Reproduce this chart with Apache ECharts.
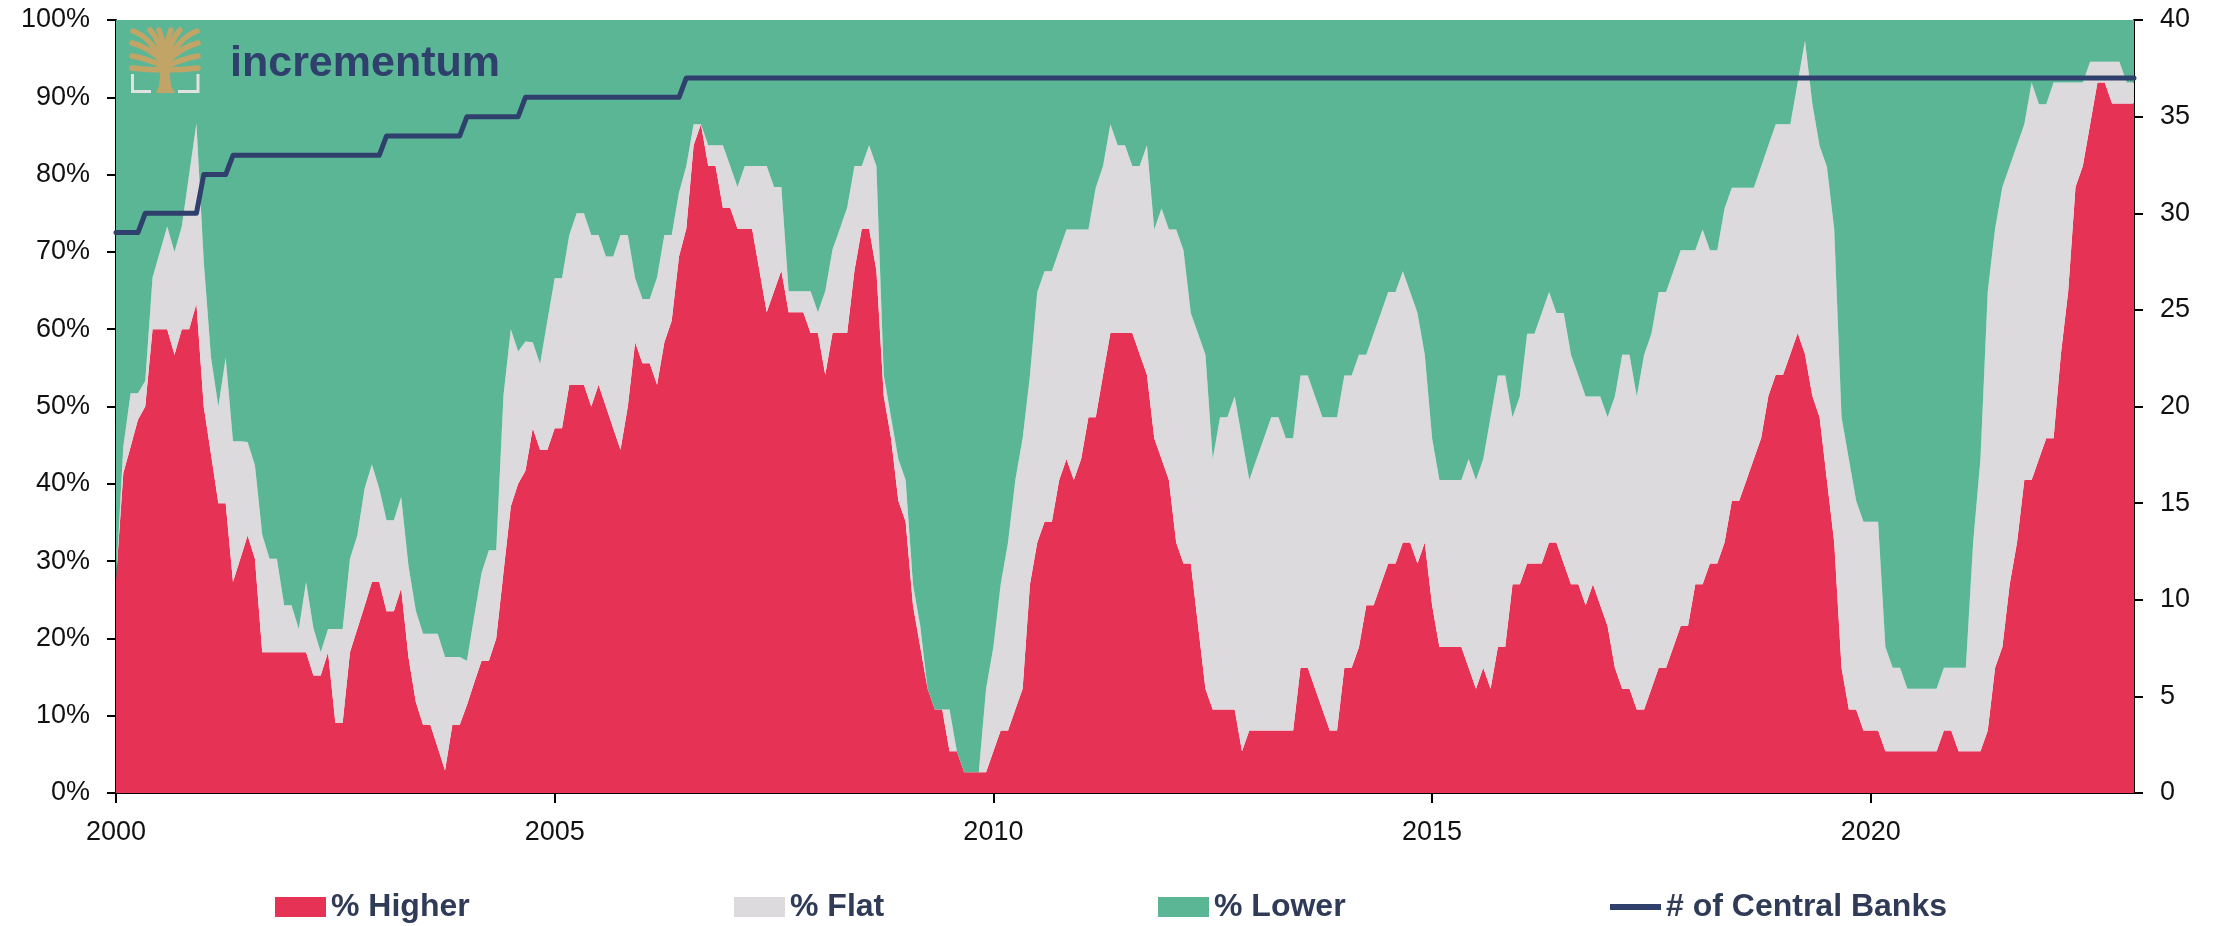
<!DOCTYPE html>
<html><head><meta charset="utf-8">
<script src="https://cdn.jsdelivr.net/npm/echarts@6/dist/echarts.min.js"></script>
<style>html,body{margin:0;padding:0;background:#fff}#c{width:2214px;height:926px}</style>
</head><body><div id="c"></div>
<script>
// Monthly observations, Jan 2000 .. Jan 2023
const pctHigher = [
27.6,41.4,44.8,48.3,50.0,60.0,60.0,60.0,56.7,60.0,60.0,63.3,
50.0,43.8,37.5,37.5,27.3,30.3,33.3,30.3,18.2,18.2,18.2,18.2,
18.2,18.2,18.2,15.2,15.2,18.2,9.1,9.1,18.2,21.2,24.2,27.3,
27.3,23.5,23.5,26.5,17.6,11.8,8.8,8.8,5.9,2.9,8.8,8.8,
11.4,14.3,17.1,17.1,20.0,28.6,37.1,40.0,41.7,47.2,44.4,44.4,
47.2,47.2,52.8,52.8,52.8,50.0,52.8,50.0,47.2,44.4,50.0,58.3,
55.6,55.6,52.8,58.3,61.1,69.4,73.0,83.8,86.5,81.1,81.1,75.7,
75.7,73.0,73.0,73.0,67.6,62.2,64.9,67.6,62.2,62.2,62.2,59.5,
59.5,54.1,59.5,59.5,59.5,67.6,73.0,73.0,67.6,51.4,45.9,37.8,
35.1,24.3,18.9,13.5,10.8,10.8,5.4,5.4,2.7,2.7,2.7,2.7,
5.4,8.1,8.1,10.8,13.5,27.0,32.4,35.1,35.1,40.5,43.2,40.5,
43.2,48.6,48.6,54.1,59.5,59.5,59.5,59.5,56.8,54.1,45.9,43.2,
40.5,32.4,29.7,29.7,21.6,13.5,10.8,10.8,10.8,10.8,5.4,8.1,
8.1,8.1,8.1,8.1,8.1,8.1,16.2,16.2,13.5,10.8,8.1,8.1,
16.2,16.2,18.9,24.3,24.3,27.0,29.7,29.7,32.4,32.4,29.7,32.4,
24.3,18.9,18.9,18.9,18.9,16.2,13.5,16.2,13.5,18.9,18.9,27.0,
27.0,29.7,29.7,29.7,32.4,32.4,29.7,27.0,27.0,24.3,27.0,24.3,
21.6,16.2,13.5,13.5,10.8,10.8,13.5,16.2,16.2,18.9,21.6,21.6,
27.0,27.0,29.7,29.7,32.4,37.8,37.8,40.5,43.2,45.9,51.4,54.1,
54.1,56.8,59.5,56.8,51.4,48.6,40.5,32.4,16.2,10.8,10.8,8.1,
8.1,8.1,5.4,5.4,5.4,5.4,5.4,5.4,5.4,5.4,8.1,8.1,
5.4,5.4,5.4,5.4,8.1,16.2,18.9,27.0,32.4,40.5,40.5,43.2,
45.9,45.9,56.8,64.9,78.4,81.1,86.5,91.9,91.9,89.2,89.2,89.2,
89.2];
const pctFlat = [
0,3.4,6.9,3.4,3.3,6.7,10.0,13.3,13.3,13.3,20.0,23.3,
18.8,12.5,12.5,18.8,18.2,15.2,12.1,12.1,15.2,12.1,12.1,6.1,
6.1,3.0,9.1,6.1,3.0,3.0,12.1,12.1,12.1,12.1,15.2,15.2,
12.1,11.8,11.8,11.8,11.8,11.8,11.8,11.8,14.7,14.7,8.8,8.8,
5.7,8.6,11.4,14.3,11.4,22.9,22.9,17.1,16.7,11.1,11.1,16.7,
19.4,19.4,19.4,22.2,22.2,22.2,19.4,19.4,22.2,27.8,22.2,8.3,
8.3,8.3,13.9,13.9,11.1,8.3,8.1,2.7,0,2.7,2.7,8.1,
5.4,5.4,8.1,8.1,13.5,18.9,13.5,10.8,2.7,2.7,2.7,5.4,
2.7,10.8,10.8,13.5,16.2,13.5,8.1,10.8,13.5,2.7,2.7,5.4,
5.4,2.7,2.7,0,0,0,5.4,0,0,0,0,10.8,
13.5,18.9,24.3,29.7,32.4,27.0,32.4,32.4,32.4,29.7,29.7,32.4,
29.7,24.3,29.7,27.0,27.0,24.3,24.3,21.6,24.3,29.7,27.0,32.4,
32.4,40.5,40.5,32.4,37.8,43.2,32.4,37.8,37.8,40.5,40.5,32.4,
35.1,37.8,40.5,40.5,37.8,37.8,37.8,37.8,37.8,37.8,40.5,40.5,
37.8,37.8,37.8,32.4,35.1,35.1,35.1,35.1,35.1,32.4,32.4,24.3,
21.6,21.6,21.6,21.6,21.6,27.0,27.0,27.0,35.1,35.1,35.1,21.6,
24.3,29.7,29.7,32.4,32.4,29.7,32.4,29.7,27.0,27.0,24.3,27.0,
27.0,35.1,43.2,43.2,40.5,45.9,45.9,48.6,48.6,48.6,48.6,48.6,
43.2,45.9,40.5,40.5,43.2,40.5,40.5,37.8,35.1,35.1,32.4,32.4,
32.4,29.7,32.4,40.5,37.8,35.1,40.5,40.5,32.4,32.4,27.0,27.0,
27.0,27.0,13.5,10.8,10.8,8.1,8.1,8.1,8.1,8.1,8.1,8.1,
10.8,10.8,27.0,37.8,56.8,56.8,59.5,54.1,51.4,46.0,51.4,45.9,
43.2,46.0,35.1,27.0,13.5,10.8,8.1,2.7,2.7,5.4,5.4,2.7,
2.7];
const pctLower = [
72.4,55.2,48.3,48.3,46.7,33.3,30.0,26.7,30.0,26.7,20.0,13.4,
31.3,43.8,50.0,43.8,54.5,54.5,54.6,57.6,66.7,69.7,69.7,75.8,
75.8,78.8,72.7,78.8,81.8,78.8,78.8,78.8,69.7,66.7,60.6,57.6,
60.6,64.7,64.7,61.8,70.6,76.5,79.4,79.4,79.4,82.4,82.4,82.4,
82.9,77.1,71.5,68.6,68.6,48.6,40.0,42.9,41.7,41.7,44.5,38.9,
33.4,33.4,27.8,25.0,25.0,27.8,27.8,30.6,30.6,27.8,27.8,33.4,
36.1,36.1,33.3,27.8,27.8,22.3,18.9,13.5,13.5,16.2,16.2,16.2,
18.9,21.6,18.9,18.9,18.9,18.9,21.6,21.6,35.1,35.1,35.1,35.1,
37.8,35.1,29.7,27.0,24.3,18.9,18.9,16.2,18.9,45.9,51.4,56.8,
59.5,73.0,78.4,86.5,89.2,89.2,89.2,94.6,97.3,97.3,97.3,86.5,
81.1,73.0,67.6,59.5,54.1,46.0,35.2,32.5,32.5,29.8,27.1,27.1,
27.1,27.1,21.7,18.9,13.5,16.2,16.2,18.9,18.9,16.2,27.1,24.4,
27.1,27.1,29.8,37.9,40.6,43.3,56.8,51.4,51.4,48.7,54.1,59.5,
56.8,54.1,51.4,51.4,54.1,54.1,46.0,46.0,48.7,51.4,51.4,51.4,
46.0,46.0,43.3,43.3,40.6,37.9,35.2,35.2,32.5,35.2,37.9,43.3,
54.1,59.5,59.5,59.5,59.5,56.8,59.5,56.8,51.4,46.0,46.0,51.4,
48.7,40.6,40.6,37.9,35.2,37.9,37.9,43.3,46.0,48.7,48.7,48.7,
51.4,48.7,43.3,43.3,48.7,43.3,40.6,35.2,35.2,32.5,29.8,29.8,
29.8,27.1,29.8,29.8,24.4,21.7,21.7,21.7,21.7,19.0,16.2,13.5,
13.5,13.5,8.1,2.7,10.8,16.3,19.0,27.1,51.4,56.8,62.2,64.9,
64.9,64.9,81.1,83.8,83.8,86.5,86.5,86.5,86.5,86.5,83.8,83.8,
83.8,83.8,67.6,56.8,35.1,27.0,21.6,18.9,16.2,13.5,8.1,10.9,
10.9,8.1,8.1,8.1,8.1,8.1,5.4,5.4,5.4,5.4,5.4,8.1,
8.1];
const centralBanks = [
29,29,29,29,30,30,30,30,30,30,30,30,
32,32,32,32,33,33,33,33,33,33,33,33,
33,33,33,33,33,33,33,33,33,33,33,33,
33,34,34,34,34,34,34,34,34,34,34,34,
35,35,35,35,35,35,35,35,36,36,36,36,
36,36,36,36,36,36,36,36,36,36,36,36,
36,36,36,36,36,36,37,37,37,37,37,37,
37,37,37,37,37,37,37,37,37,37,37,37,
37,37,37,37,37,37,37,37,37,37,37,37,
37,37,37,37,37,37,37,37,37,37,37,37,
37,37,37,37,37,37,37,37,37,37,37,37,
37,37,37,37,37,37,37,37,37,37,37,37,
37,37,37,37,37,37,37,37,37,37,37,37,
37,37,37,37,37,37,37,37,37,37,37,37,
37,37,37,37,37,37,37,37,37,37,37,37,
37,37,37,37,37,37,37,37,37,37,37,37,
37,37,37,37,37,37,37,37,37,37,37,37,
37,37,37,37,37,37,37,37,37,37,37,37,
37,37,37,37,37,37,37,37,37,37,37,37,
37,37,37,37,37,37,37,37,37,37,37,37,
37,37,37,37,37,37,37,37,37,37,37,37,
37,37,37,37,37,37,37,37,37,37,37,37,
37,37,37,37,37,37,37,37,37,37,37,37,
37];
const xTickYears = [2000, 2005, 2010, 2015, 2020];
const seriesNames = ['% Higher', '% Flat', '% Lower', '# of Central Banks'];

const months = [];
for (let i = 0; i < pctHigher.length; i++) {
  const y = 2000 + Math.floor(i / 12), m = i % 12 + 1;
  months.push(y + '-' + (m < 10 ? '0' : '') + m);
}
const isYearTick = (idx) => {
  const v = months[idx];
  return v.endsWith('-01') && xTickYears.includes(+v.slice(0, 4));
};

const FONT = "'Liberation Sans', Arial, Helvetica, sans-serif";
const RED = '#E63254', GREY = '#DCDADD', GREEN = '#5BB696', NAVY = '#2E406B', GOLD = '#C3A467';

const chart = echarts.init(document.getElementById('c'), null, {renderer: 'canvas'});

const areaSeries = (name, data, color) => ({
  name, type: 'line', stack: 'pct', data, symbol: 'none', showSymbol: false,
  lineStyle: {width: 0}, areaStyle: {color, opacity: 1}, itemStyle: {color},
  emphasis: {disabled: true}, z: 2
});

const legendBase = (name, left, icon, h) => ({
  data: [{name, icon}], left, top: 891, padding: 0, itemWidth: 51, itemHeight: h,
  itemGap: 0, selectedMode: false,
  textStyle: {fontFamily: FONT, fontSize: 32, fontWeight: 'bold', color: '#2F3B57'}
});

const branch = (pts) => ({
  type: 'bezierCurve', z: 100,
  shape: {x1: pts[0], y1: pts[1], cpx1: pts[2], cpy1: pts[3], cpx2: pts[4], cpy2: pts[5], x2: pts[6], y2: pts[7]},
  style: {stroke: GOLD, lineWidth: 5.5, fill: null, lineCap: 'round'}
});

const option = {
  animation: false,
  backgroundColor: '#fff',
  grid: {left: 116, right: 80, top: 20, bottom: 133, containLabel: false, outerBoundsMode: 'none'},
  xAxis: {
    type: 'category', data: months, boundaryGap: false,
    axisLine: {show: true, lineStyle: {color: '#000', width: 2}},
    axisTick: {show: true, length: 10, interval: (i) => isYearTick(i), lineStyle: {color: '#000', width: 2}},
    axisLabel: {interval: (i) => isYearTick(i), formatter: (v) => v.slice(0, 4), margin: 26,
      fontFamily: FONT, fontSize: 27, color: '#111'},
    splitLine: {show: false}
  },
  yAxis: [{
    type: 'value', min: 0, max: 100, interval: 10, position: 'left',
    axisLine: {show: true, lineStyle: {color: '#000', width: 2}},
    axisTick: {show: true, length: 9, lineStyle: {color: '#000', width: 2}},
    axisLabel: {formatter: '{value}%', margin: 26, fontFamily: FONT, fontSize: 27, color: '#111'},
    splitLine: {show: false}
  }, {
    type: 'value', min: 0, max: 40, interval: 5, position: 'right',
    axisLine: {show: true, lineStyle: {color: '#000', width: 2}},
    axisTick: {show: true, length: 9, lineStyle: {color: '#000', width: 2}},
    axisLabel: {margin: 26, fontFamily: FONT, fontSize: 27, color: '#111'},
    splitLine: {show: false}
  }],
  legend: [
    legendBase(seriesNames[0], 275, 'rect', 20),
    legendBase(seriesNames[1], 734, 'rect', 20),
    legendBase(seriesNames[2], 1158, 'rect', 20),
    legendBase(seriesNames[3], 1610, 'rect', 6)
  ],
  series: [
    areaSeries(seriesNames[0], pctHigher, RED),
    areaSeries(seriesNames[1], pctFlat, GREY),
    areaSeries(seriesNames[2], pctLower, GREEN),
    {
      name: seriesNames[3], type: 'line', yAxisIndex: 1, data: centralBanks,
      symbol: 'none', showSymbol: false, z: 5,
      lineStyle: {color: NAVY, width: 5, join: 'round', cap: 'round'},
      itemStyle: {color: NAVY}, emphasis: {disabled: true}
    }
  ],
  graphic: [
    {type: 'polygon', z: 100, shape: {points: [[156,93],[175,93],[171,86],[170,76],[169,64],[161,64],[160,76],[159,86]]}, style: {fill: GOLD}},
    branch([163,70, 150,70, 140,69, 132,68]),
    branch([163,66, 150,60, 138,57, 132,56]),
    branch([163,62, 152,50, 140,45, 132,43]),
    branch([162,60, 152,42, 142,34, 133,31]),
    branch([164,60, 160,45, 155,35, 150,30]),
    branch([165,60, 164,45, 161,35, 159,30]),
    branch([167,70, 180,70, 190,69, 198,68]),
    branch([167,66, 180,60, 192,57, 198,56]),
    branch([167,62, 178,50, 190,45, 198,43]),
    branch([168,60, 178,42, 188,34, 197,31]),
    branch([166,60, 170,45, 175,35, 180,30]),
    branch([165,60, 166,45, 169,35, 171,30]),
    {type: 'polyline', z: 100, shape: {points: [[132.5,74],[132.5,91.5],[151,91.5]]}, style: {stroke: '#E2E2E2', lineWidth: 3, fill: null}},
    {type: 'polyline', z: 100, shape: {points: [[178,91.5],[198,91.5],[198,74]]}, style: {stroke: '#E2E2E2', lineWidth: 3, fill: null}},
    {type: 'text', z: 100, style: {x: 230, y: 64, text: 'incrementum', verticalAlign: 'middle',
      font: "bold 43px 'Liberation Sans', Arial, sans-serif", fill: '#2E406B'}}
  ]
};
chart.setOption(option);
</script>
</body></html>
